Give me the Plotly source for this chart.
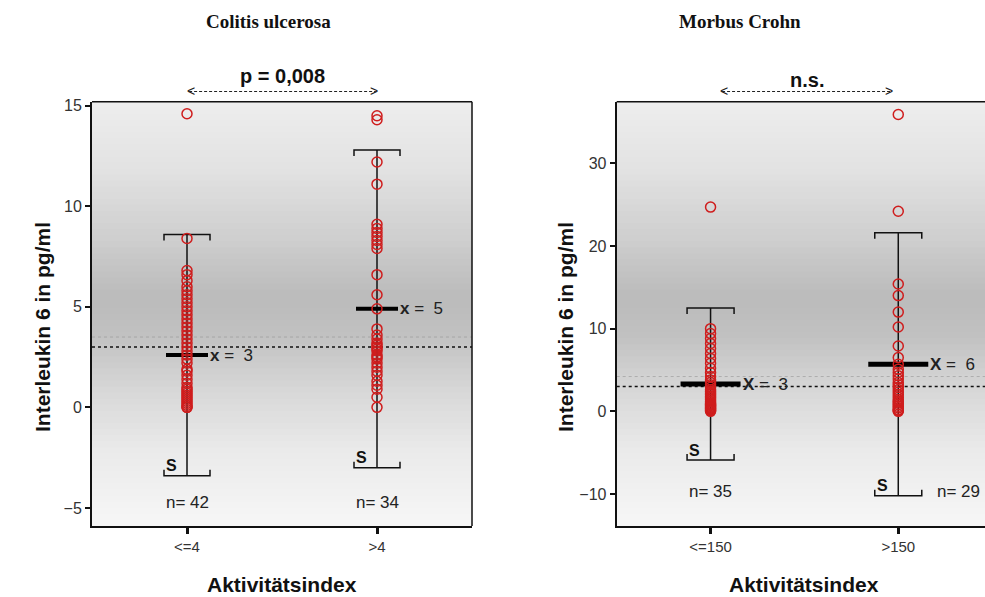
import plotly.graph_objects as go

# ---------------- data ----------------
panel_titles = ["Colitis ulcerosa", "Morbus Crohn"]
p_labels = ["p = 0,008", "n.s."]

uc_groups = ["<=4", ">4"]
mc_groups = ["<=150", ">150"]

# Interleukin 6 (pg/ml), Colitis ulcerosa
uc_le4 = [14.6, 8.4, 6.8, 6.6, 6.3, 6.0, 5.8, 5.6, 5.4, 5.2, 5.0, 4.8, 4.6, 4.4,
          4.2, 4.0, 3.8, 3.6, 3.4, 3.2, 3.0, 2.8, 2.6, 2.4, 2.2, 1.9, 1.8, 1.6,
          1.4, 1.2, 1.0, 0.9, 0.8, 0.7, 0.6, 0.5, 0.4, 0.3, 0.2, 0.1, 0.0, 0.0]
uc_gt4 = [14.5, 14.3, 12.2, 11.1, 9.1, 8.9, 8.7, 8.5, 8.3, 8.1, 7.9, 6.6, 5.6,
          4.9, 3.9, 3.6, 3.4, 3.2, 3.1, 3.0, 2.9, 2.8, 2.6, 2.5, 2.4, 2.2, 2.0,
          1.8, 1.6, 1.3, 1.1, 0.9, 0.5, 0.0]

# Interleukin 6 (pg/ml), Morbus Crohn
mc_le150 = [24.7, 10.0, 9.4, 8.8, 8.2, 7.6, 7.0, 6.4, 5.8, 5.2, 4.7, 4.2, 3.8,
            3.5, 3.2, 2.9, 2.6, 2.4, 2.2, 2.0, 1.8, 1.6, 1.4, 1.2, 1.0, 0.9,
            0.8, 0.7, 0.6, 0.5, 0.4, 0.3, 0.2, 0.1, 0.0]
mc_gt150 = [35.9, 24.2, 15.4, 14.0, 12.0, 10.2, 7.9, 6.5, 5.7, 5.1, 4.7, 4.3,
            3.9, 3.5, 3.2, 2.9, 2.6, 2.3, 2.0, 1.7, 1.4, 1.2, 1.0, 0.8, 0.6,
            0.4, 0.2, 0.1, 0.0]

# group means and 2 SD half ranges
uc_mean = [2.6, 4.9]
uc_2sd = [6.0, 7.9]
mc_mean = [3.3, 5.7]
mc_2sd = [9.2, 15.9]

ref_level = 3.0
uc_ticks = [-5, 0, 5, 10, 15]
mc_ticks = [-10, 0, 10, 20, 30]

# ---------------- layout geometry ----------------
W, H = 985, 597
TOP, BOTTOM = 101.7, 526.0
SANS = "Liberation Sans, Arial, sans-serif"
SERIF = "Liberation Serif, Times New Roman, serif"
RED = "#cf1d1d"

panels = [
    dict(xa="x", ya="y", xpx=(92.0, 472.0), xrange=(0.5, 2.5), yrange=(-5.9, 15.2),
         groups=uc_groups, values=[uc_le4, uc_gt4], means=uc_mean, sd2=uc_2sd,
         ticks=uc_ticks, mean_mark="x", mean_hw=21, cap_hw=23,
         n_pos=[(0, 502), (0, 502)], arrow=(-0.01, 2.015), p_y=76,
         ytitle_x=42, right_border=True, mean_width=4),
    dict(xa="x2", ya="y2", xpx=(616.7, 985.0), xrange=(0.5, 2.462), yrange=(-13.87, 37.45),
         groups=mc_groups, values=[mc_le150, mc_gt150], means=mc_mean, sd2=mc_2sd,
         ticks=mc_ticks, mean_mark="X", mean_hw=30, cap_hw=23.5,
         n_pos=[(0, 491.7), (60, 491.7)], arrow=(0.04, 1.985), p_y=80,
         ytitle_x=565, right_border=False, mean_width=5),
]


def bg_gray(ypx):
    stops = [(TOP, 238), (170, 226), (240, 206), (295, 187), (335, 193),
             (390, 215), (450, 234), (BOTTOM, 247)]
    for (y0, g0), (y1, g1) in zip(stops[:-1], stops[1:]):
        if y0 <= ypx <= y1:
            t = (ypx - y0) / (y1 - y0)
            g = round(g0 + (g1 - g0) * t)
            return f"rgb({g},{g},{g})"
    return "rgb(247,247,247)"


fig = go.Figure()
shapes, annos = [], []
layout_axes = {}

for k, P in enumerate(panels):
    xa, ya = P["xa"], P["ya"]
    sx = (P["xpx"][1] - P["xpx"][0]) / (P["xrange"][1] - P["xrange"][0])
    sy = (BOTTOM - TOP) / (P["yrange"][1] - P["yrange"][0])
    y_of_px = lambda py, P=P, sy=sy: P["yrange"][1] - (py - TOP) / sy
    xdom = f"{xa} domain"
    ydom = f"{ya} domain"

    # shaded plot background
    n_strips = 70
    for s in range(n_strips):
        f0, f1 = s / n_strips, (s + 1) / n_strips
        ypx = BOTTOM - (f0 + f1) / 2 * (BOTTOM - TOP)
        shapes.append(dict(type="rect", xref=xdom, yref=ydom, x0=0, x1=1,
                           y0=f0, y1=f1 + 0.002, fillcolor=bg_gray(ypx),
                           line=dict(width=0), layer="below"))

    # reference level, with a faint companion line just above it
    shapes.append(dict(type="line", xref=xdom, yref=ya, x0=0, x1=1,
                       y0=ref_level + 10 / sy, y1=ref_level + 10 / sy,
                       line=dict(color="rgba(150,150,150,0.6)", width=1, dash="dot"),
                       layer="below"))
    shapes.append(dict(type="line", xref=xdom, yref=ya, x0=0, x1=1,
                       y0=ref_level, y1=ref_level,
                       line=dict(color="#111", width=1.5, dash="dot"), layer="below"))

    # frame (top, optional right)
    shapes.append(dict(type="line", xref=xdom, yref=ydom, x0=0, x1=1, y0=1, y1=1,
                       line=dict(color="#111", width=1.5)))
    if P["right_border"]:
        shapes.append(dict(type="line", xref=xdom, yref=ydom, x0=1, x1=1, y0=0, y1=1,
                           line=dict(color="#111", width=1.5)))

    tk = 6 / sy
    for i, vals in enumerate(P["values"]):
        c = i + 1
        m, h = P["means"][i], P["sd2"][i]
        cw = P["cap_hw"] / sx
        mw = P["mean_hw"] / sx
        line_k = dict(color="#111", width=1.5)
        # whisker with caps
        fig.add_trace(go.Scatter(x=[c, c], y=[m - h, m + h], mode="lines", line=line_k,
                                 xaxis=xa, yaxis=ya, showlegend=False, hoverinfo="skip"))
        fig.add_trace(go.Scatter(x=[c - cw, c - cw, c + cw, c + cw],
                                 y=[m + h - tk, m + h, m + h, m + h - tk],
                                 mode="lines", line=line_k, xaxis=xa, yaxis=ya,
                                 showlegend=False, hoverinfo="skip"))
        fig.add_trace(go.Scatter(x=[c - cw, c - cw, c + cw, c + cw],
                                 y=[m - h + tk, m - h, m - h, m - h + tk],
                                 mode="lines", line=line_k, xaxis=xa, yaxis=ya,
                                 showlegend=False, hoverinfo="skip"))
        # mean bar
        fig.add_trace(go.Scatter(x=[c - mw, c + mw], y=[m, m], mode="lines",
                                 line=dict(color="#000", width=P["mean_width"]),
                                 xaxis=xa, yaxis=ya, showlegend=False, hoverinfo="skip"))
        # individual values
        fig.add_trace(go.Scatter(x=[c] * len(vals), y=vals, mode="markers",
                                 marker=dict(symbol="circle-open", size=10,
                                             color=RED, line=dict(width=1.5, color=RED)),
                                 xaxis=xa, yaxis=ya, showlegend=False, hoverinfo="skip",
                                 cliponaxis=False))
        # mean label
        annos.append(dict(x=c + mw, y=m, xref=xa, yref=ya, xanchor="left",
                          yanchor="middle", showarrow=False,
                          text=f"<b>{P['mean_mark']}</b> =  {round(m)}",
                          font=dict(family=SANS, size=17, color="#222")))
        # S label above lower cap
        annos.append(dict(x=c - 16 / sx, y=m - h, xref=xa, yref=ya, yshift=10,
                          xanchor="center", yanchor="middle", showarrow=False,
                          text="<b>S</b>", font=dict(family=SANS, size=16, color="#111")))
        # n label
        dx, npy = P["n_pos"][i]
        annos.append(dict(x=c + dx / sx, y=y_of_px(npy), xref=xa, yref=ya,
                          xanchor="center", yanchor="middle", showarrow=False,
                          text=f"n= {len(vals)}",
                          font=dict(family=SANS, size=17, color="#222")))

    # significance bracket
    a0, a1 = 1 + P["arrow"][0], P["arrow"][1]
    ay = (BOTTOM - 91.5) / (BOTTOM - TOP)
    shapes.append(dict(type="line", xref=xa, yref=ydom, x0=a0 + 4 / sx, x1=a1 - 4 / sx,
                       y0=ay, y1=ay, line=dict(color="#222", width=1.2, dash="3px,2px")))
    annos.append(dict(x=a0, y=ay, xref=xa, yref=ydom, xanchor="left", yanchor="middle",
                      showarrow=False, text="<", font=dict(family=SANS, size=14, color="#222")))
    annos.append(dict(x=a1, y=ay, xref=xa, yref=ydom, xanchor="right", yanchor="middle",
                      showarrow=False, text=">", font=dict(family=SANS, size=14, color="#222")))
    annos.append(dict(x=(a0 + a1) / 2, y=1 - P["p_y"] / H, xref=xa, yref="paper",
                      xanchor="center", yanchor="middle", showarrow=False,
                      text=f"<b>{p_labels[k]}</b>",
                      font=dict(family=SANS, size=20, color="#111")))

    # panel title
    tx = [268, 740][k]
    annos.append(dict(x=tx / W, y=1 - 22 / H, xref="paper", yref="paper",
                      xanchor="center", yanchor="middle", showarrow=False,
                      text=f"<b>{panel_titles[k]}</b>",
                      font=dict(family=SERIF, size=19, color="#111")))
    # axis titles
    annos.append(dict(x=P["ytitle_x"] / W, y=1 - 327 / H, xref="paper", yref="paper",
                      xanchor="center", yanchor="middle", showarrow=False, textangle=-90,
                      text="<b>Interleukin 6 in pg/ml</b>",
                      font=dict(family=SANS, size=21, color="#111")))
    annos.append(dict(x=(P["xpx"][0] + (1.5 - P["xrange"][0]) * sx) / W,
                      y=1 - 584 / H, xref="paper", yref="paper",
                      xanchor="center", yanchor="middle", showarrow=False,
                      text="<b>Aktivitätsindex</b>",
                      font=dict(family=SANS, size=21, color="#111")))

    suffix = "" if k == 0 else "2"
    layout_axes[f"xaxis{suffix}"] = dict(
        domain=[P["xpx"][0] / W, min(P["xpx"][1] / W, 1.0)], range=list(P["xrange"]),
        anchor=ya, tickmode="array", tickvals=[1, 2], ticktext=P["groups"],
        showline=True, linecolor="#111", linewidth=2, ticks="outside", ticklen=6,
        tickwidth=3, tickcolor="#111", showgrid=False, zeroline=False,
        tickfont=dict(family=SANS, size=15, color="#333"), automargin=False,
        fixedrange=True)
    layout_axes[f"yaxis{suffix}"] = dict(
        domain=[1 - BOTTOM / H, 1 - TOP / H], range=list(P["yrange"]), anchor=xa,
        tickmode="array", tickvals=P["ticks"], showline=True, linecolor="#111",
        linewidth=2, ticks="outside", ticklen=5, tickwidth=2, tickcolor="#111",
        showgrid=False, zeroline=False,
        tickfont=dict(family=SANS, size=16, color="#333"), automargin=False,
        fixedrange=True)

fig.update_layout(
    width=W, height=H, margin=dict(l=0, r=0, t=0, b=0),
    paper_bgcolor="white", plot_bgcolor="white",
    shapes=shapes, annotations=annos, showlegend=False, **layout_axes)

fig.write_html("out.html")
